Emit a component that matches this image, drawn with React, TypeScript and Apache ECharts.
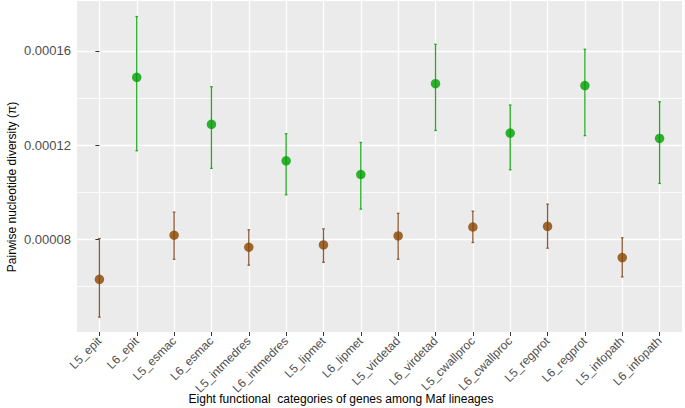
import React, { useEffect, useRef } from "react";
import * as echarts from "echarts";

const categories = [
  "L5_epit", "L6_epit", "L5_esmac", "L6_esmac", "L5_intmedres", "L6_intmedres",
  "L5_lipmet", "L6_lipmet", "L5_virdetad", "L6_virdetad", "L5_cwallproc", "L6_cwallproc",
  "L5_regprot", "L6_regprot", "L5_infopath", "L6_infopath",
];
const meanValues = [
  0.0000630, 0.0001488, 0.0000817, 0.0001288, 0.0000766, 0.0001133,
  0.0000776, 0.0001075, 0.0000814, 0.0001461, 0.0000852, 0.0001251,
  0.0000855, 0.0001453, 0.0000722, 0.0001228,
];
const lowerValues = [
  0.0000469, 0.0001176, 0.0000715, 0.0001101, 0.0000690, 0.0000989,
  0.0000702, 0.0000928, 0.0000715, 0.0001262, 0.0000786, 0.0001095,
  0.0000762, 0.0001240, 0.0000640, 0.0001037,
];
const upperValues = [
  0.0000803, 0.0001746, 0.0000915, 0.0001448, 0.0000840, 0.0001248,
  0.0000844, 0.0001211, 0.0000910, 0.0001628, 0.0000919, 0.0001370,
  0.0000949, 0.0001607, 0.0000806, 0.0001384,
];
const yTickValues = [0.00008, 0.00012, 0.00016];
const yMinorValues = [0.00006, 0.0001, 0.00014];
const xTitle = "Eight functional  categories of genes among Maf lineages";
const yTitle = "Pairwise nucleotide diversity (π)";

const FONT = "Liberation Sans, Arial, Helvetica, sans-serif";
const COLORS = {
  L5: { point: "#8B4500", bar: "#8E5A36" },
  L6: { point: "#00A000", bar: "#20AC20" },
};

export default function App() {
  const ref = useRef<HTMLDivElement>(null);
  useEffect(() => {
    if (!ref.current) return;
    const chart = echarts.init(ref.current, undefined, { renderer: "svg" });
    const idx = categories.map((_, i) => i);
    const groups: ("L5" | "L6")[] = ["L5", "L6"];

    const errorSeries = groups.map((g) => ({
      type: "custom",
      name: g + "_err",
      z: 2,
      encode: { x: 0, y: [1, 2] },
      data: idx
        .filter((i) => categories[i].startsWith(g))
        .map((i) => [i, lowerValues[i], upperValues[i]]),
      renderItem: (params: any, api: any) => {
        const x = api.value(0);
        const top = api.coord([x, api.value(2)]);
        const bot = api.coord([x, api.value(1)]);
        const cap = 1.3;
        const style = { stroke: COLORS[g].bar, lineWidth: 1.3 };
        return {
          type: "group",
          children: [
            { type: "line", shape: { x1: top[0], y1: top[1], x2: bot[0], y2: bot[1] }, style },
            { type: "line", shape: { x1: top[0] - cap, y1: top[1], x2: top[0] + cap, y2: top[1] }, style },
            { type: "line", shape: { x1: bot[0] - cap, y1: bot[1], x2: bot[0] + cap, y2: bot[1] }, style },
          ],
        };
      },
    }));

    const pointSeries = groups.map((g) => ({
      type: "scatter",
      name: g,
      z: 3,
      symbol: "circle",
      symbolSize: 9.5,
      itemStyle: { color: COLORS[g].point },
      data: idx.filter((i) => categories[i].startsWith(g)).map((i) => [i, meanValues[i]]),
    }));

    chart.setOption({
      animation: false,
      grid: {
        left: 77,
        right: 3,
        top: 1,
        bottom: 76,
        show: true,
        backgroundColor: "#EBEBEB",
        borderWidth: 0,
      },
      xAxis: {
        type: "value",
        min: -0.6,
        max: 15.6,
        axisLine: { show: false },
        axisTick: { show: true, customValues: idx, length: 4, lineStyle: { color: "#333333", width: 1 } },
        axisLabel: {
          customValues: idx,
          rotate: 45,
          margin: 7,
          fontSize: 12,
          fontFamily: FONT,
          color: "#4D4D4D",
          formatter: (v: number) => categories[Math.round(v)] ?? "",
        },
        splitLine: { show: true, lineStyle: { color: "#FFFFFF", width: 1.3 } },
      },
      yAxis: [
        {
          type: "value",
          min: 0.0000406,
          max: 0.0001812,
          axisLine: { show: false },
          axisTick: { show: true, customValues: yTickValues, length: 4, lineStyle: { color: "#333333", width: 1 } },
          axisLabel: {
            customValues: yTickValues,
            margin: 6,
            fontSize: 13,
            fontFamily: FONT,
            color: "#4D4D4D",
            formatter: (v: number) => v.toFixed(5),
          },
          splitLine: { show: true, lineStyle: { color: "#FFFFFF", width: 1.3 } },
        },
        {
          type: "value",
          position: "right",
          min: 0.0000406,
          max: 0.0001812,
          axisLine: { show: false },
          axisTick: { show: false, customValues: yMinorValues },
          axisLabel: { show: false, customValues: yMinorValues },
          splitLine: { show: true, lineStyle: { color: "#FFFFFF", width: 0.8 } },
        },
      ],
      graphic: [
        {
          type: "text",
          x: 341,
          y: 399,
          style: { text: xTitle, align: "center", verticalAlign: "middle", fontSize: 12, fontFamily: FONT, fill: "#000000" },
        },
        {
          type: "text",
          x: 12,
          y: 187,
          rotation: Math.PI / 2,
          style: { text: yTitle, align: "center", verticalAlign: "middle", fontSize: 12, fontFamily: FONT, fill: "#000000" },
        },
      ],
      series: [...errorSeries, ...pointSeries],
    });
    return () => chart.dispose();
  }, []);
  return (
    <div
      ref={ref}
      style={{ position: "absolute", left: 0, top: 0, width: 685, height: 408, background: "#FFFFFF" }}
    />
  );
}
